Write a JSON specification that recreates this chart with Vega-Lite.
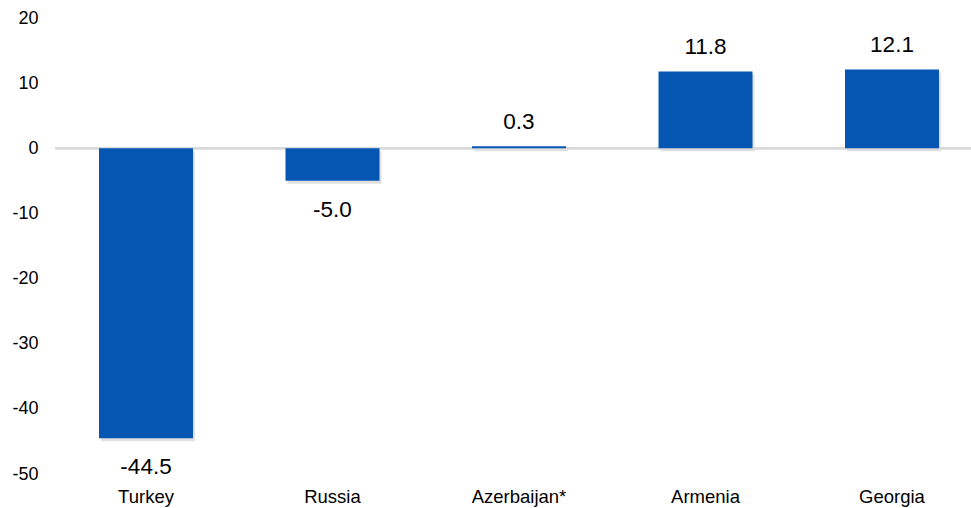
{
  "$schema": "https://vega.github.io/schema/vega-lite/v6.json",
  "width": 928,
  "height": 456,
  "autosize": {"type": "none"},
  "padding": {"left": 55, "top": 18, "right": 0, "bottom": 34},
  "config": {
    "view": {"stroke": null},
    "font": "Liberation Sans",
    "locale": {
      "number": {"decimal": ".", "thousands": ",", "grouping": [3], "currency": ["$", ""], "minus": "-"}
    }
  },
  "data": {
    "values": [
      {"country": "Turkey", "value": -44.5},
      {"country": "Russia", "value": -5.0},
      {"country": "Azerbaijan*", "value": 0.3},
      {"country": "Armenia", "value": 11.8},
      {"country": "Georgia", "value": 12.1}
    ]
  },
  "layer": [
    {
      "mark": {"type": "bar", "color": "#000000", "opacity": 0.12, "xOffset": 2, "yOffset": 3},
      "encoding": {
        "x": {"field": "country", "type": "nominal", "sort": null,
              "scale": {"paddingInner": 0.496, "paddingOuter": 0.236},
              "axis": {"title": null, "domain": false, "ticks": false, "labelAngle": 0, "labelFontSize": 18.5, "labelColor": "#000000", "labelPadding": 13}},
        "y": {"field": "value", "type": "quantitative",
              "scale": {"domain": [-50, 20], "nice": false},
              "axis": {"title": null, "domain": false, "ticks": false, "grid": false, "values": [-50, -40, -30, -20, -10, 0, 10, 20], "labelFontSize": 18, "labelColor": "#000000", "labelPadding": 17}}
      }
    },
    {
      "mark": {"type": "rule", "color": "#d9d9d9", "strokeWidth": 2},
      "encoding": {"y": {"datum": 0, "type": "quantitative"}}
    },
    {
      "mark": {"type": "bar", "color": "#0556b2"},
      "encoding": {
        "x": {"field": "country", "type": "nominal", "sort": null},
        "y": {"field": "value", "type": "quantitative"}
      }
    },
    {
      "transform": [{"filter": "datum.value >= 0"}],
      "mark": {"type": "text", "fontSize": 22.5, "baseline": "middle", "dy": -24, "color": "#000000"},
      "encoding": {
        "x": {"field": "country", "type": "nominal", "sort": null},
        "y": {"field": "value", "type": "quantitative"},
        "text": {"field": "value", "type": "quantitative", "format": ".1f"}
      }
    },
    {
      "transform": [{"filter": "datum.value < 0"}],
      "mark": {"type": "text", "fontSize": 22.5, "baseline": "middle", "dy": 29, "color": "#000000"},
      "encoding": {
        "x": {"field": "country", "type": "nominal", "sort": null},
        "y": {"field": "value", "type": "quantitative"},
        "text": {"field": "value", "type": "quantitative", "format": ".1f"}
      }
    }
  ]
}
